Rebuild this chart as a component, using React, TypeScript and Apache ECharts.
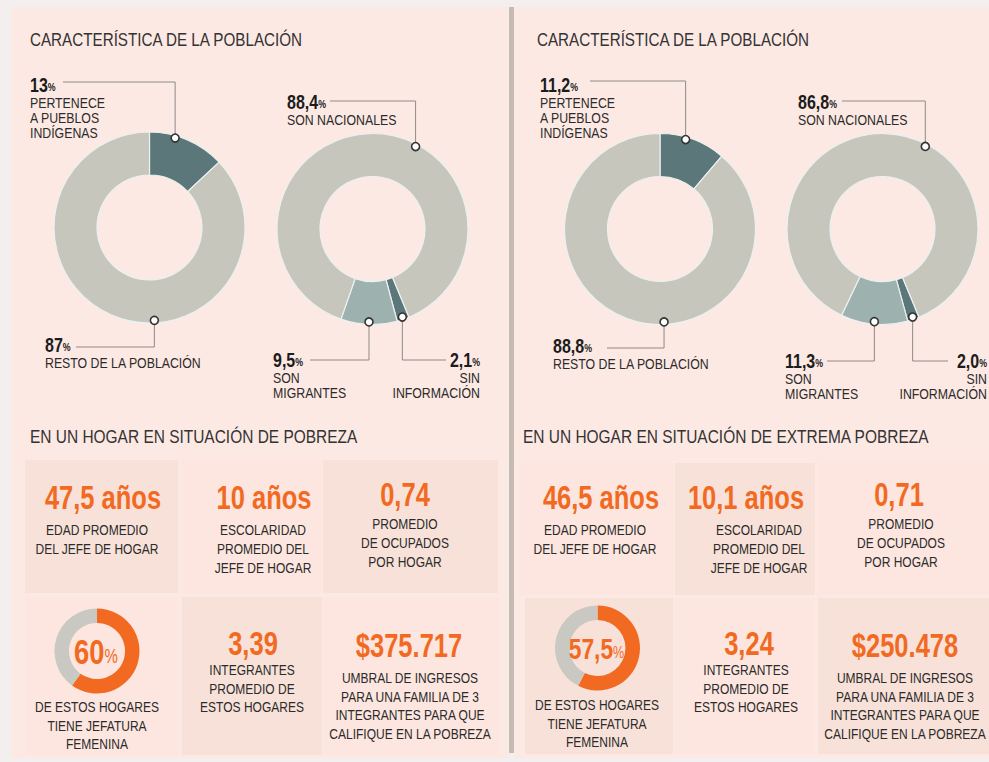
import React, { useEffect, useRef } from 'react';
import * as echarts from 'echarts';

// ---------- DATA ----------
const indigenaCats = ['PERTENECE\nA PUEBLOS\nINDÍGENAS', 'RESTO DE LA POBLACIÓN'];
const indigenaPobreza = [13, 87];
const indigenaExtrema = [11.2, 88.8];
const origenCats = ['SIN\nINFORMACIÓN', 'SON\nMIGRANTES', 'SON NACIONALES'];
const origenPobreza = [2.1, 9.5, 88.4];
const origenExtrema = [2.0, 11.3, 86.8];
const topTitles = ['CARACTERÍSTICA DE LA POBLACIÓN', 'CARACTERÍSTICA DE LA POBLACIÓN'];
const hogarTitles = ['EN UN HOGAR EN SITUACIÓN DE POBREZA', 'EN UN HOGAR EN SITUACIÓN DE EXTREMA POBREZA'];
const edadPromedio = [47.5, 46.5];
const escolaridadPromedio = [10, 10.1];
const ocupadosPorHogar = [0.74, 0.71];
const jefaturaFemenina = [60, 57.5];
const integrantesPromedio = [3.39, 3.24];
const umbralIngresos = [375717, 250478];
const statLabels = {
  edad: 'EDAD PROMEDIO\nDEL JEFE DE HOGAR',
  escolaridad: 'ESCOLARIDAD\nPROMEDIO DEL\nJEFE DE HOGAR',
  ocupados: 'PROMEDIO\nDE OCUPADOS\nPOR HOGAR',
  jefatura: 'DE ESTOS HOGARES\nTIENE JEFATURA\nFEMENINA',
  integrantes: 'INTEGRANTES\nPROMEDIO DE\nESTOS HOGARES',
  umbral: 'UMBRAL DE INGRESOS\nPARA UNA FAMILIA DE 3\nINTEGRANTES PARA QUE\nCALIFIQUE EN LA POBREZA',
};

// ---------- STYLE / LAYOUT ----------
const FONT = "'Liberation Sans', Arial, sans-serif";
const NARROW = 0.8;
const PINK = '#fde9e3';
const BOX_DARK = '#f7e1d8';
const BOX_LIGHT = '#fce6df';
const ORANGE = '#f26a22';
const TEXT = '#2b2b2b';
const C_LIGHT = '#c6c6bd';
const C_DARK = '#5b7779';
const C_MID = '#9db1af';
const RING_GRAY = '#c9c8c2';

const layouts = [
  {
    panel: [12, 7, 496, 751],
    title1: [30, 40],
    title2: [30, 437],
    d1: [149.5, 227.5],
    d2: [372.5, 229],
    indMarkers: [16, 177],
    origMarkers: [null, null, 27.6],
    indAnn: [
      { x: 30, y: 85, align: 'left', lineY: 82, lineX: 63 },
      { x: 45, y: 345, align: 'left', lineY: 347, lineX: 76 },
    ],
    origAnn: [
      { x: 480, y: 360, align: 'right', lineY: 360, lineX: 446 },
      { x: 273, y: 360, align: 'left', lineY: 360, lineX: 310 },
      { x: 287, y: 102, align: 'left', lineY: 101, lineX: 330 },
    ],
    boxes: [
      [25, 460, 153, 133, 1], [182, 460, 140, 133, 0], [323, 460, 175, 133, 1],
      [25, 597, 153, 158, 0], [182, 597, 140, 158, 1], [323, 597, 175, 158, 0],
    ],
    edad: { n: [103, 497], l: [97, 530] },
    escolaridad: { n: [264, 497], l: [263, 530] },
    ocupados: { n: [405, 494], l: [405, 524] },
    jefatura: { c: [97, 651], l: [97, 707] },
    integrantes: { n: [253, 643], l: [252, 670] },
    umbral: { n: [409, 645], l: [410, 678] },
  },
  {
    panel: [514, 7, 475, 751],
    title1: [537, 40],
    title2: [523, 437],
    d1: [660, 229],
    d2: [882.5, 229],
    indMarkers: [16, 177.5],
    origMarkers: [null, null, 27.4],
    indAnn: [
      { x: 540, y: 85, align: 'left', lineY: 81, lineX: 590 },
      { x: 553, y: 346, align: 'left', lineY: 348, lineX: 607 },
    ],
    origAnn: [
      { x: 987, y: 361, align: 'right', lineY: 361, lineX: 948 },
      { x: 785, y: 361, align: 'left', lineY: 361, lineX: 827 },
      { x: 798, y: 102, align: 'left', lineY: 101, lineX: 842 },
    ],
    boxes: [
      [520, 463, 153, 132, 0], [675, 463, 140, 132, 1], [817, 463, 172, 132, 0],
      [525, 598, 148, 156, 1], [675, 598, 140, 156, 0], [818, 598, 171, 156, 1],
    ],
    edad: { n: [601, 497], l: [595, 530] },
    escolaridad: { n: [746, 497], l: [759, 530] },
    ocupados: { n: [899, 494], l: [901, 524] },
    jefatura: { c: [597.5, 648], l: [597, 705] },
    integrantes: { n: [749, 643], l: [746, 670] },
    umbral: { n: [905, 645], l: [905, 678] },
  },
];

const R_IN = 52.5;
const R_OUT = 95.5;
const R_MARK = 93;

const fmt = (v: number, dec?: number) =>
  (dec === undefined ? String(v) : v.toFixed(dec)).replace('.', ',');
const fmtMoney = (v: number) => '$' + String(v).replace(/\B(?=(\d{3})+(?!\d))/g, '.');

function txt(t: string, x: number, y: number, o: any = {}) {
  const align = o.align || 'left';
  const va = o.va || 'middle';
  return {
    type: 'text',
    x,
    y,
    scaleX: o.scaleX || NARROW,
    z: 40,
    silent: true,
    style: {
      text: t,
      fill: o.fill || TEXT,
      fontFamily: FONT,
      fontSize: o.size || 15,
      fontWeight: o.weight || 'normal',
      align,
      textAlign: align,
      verticalAlign: va,
      textVerticalAlign: va,
      lineHeight: o.lh,
      rich: o.rich,
    },
  };
}

function multi(t: string, x: number, firstY: number, lh: number, o: any = {}) {
  return txt(t, x, firstY - lh / 2, { ...o, va: 'top', lh });
}

function pctText(num: string, x: number, y: number, align: string) {
  return txt(`{n|${num}}{p|%}`, x, y, {
    align,
    scaleX: 0.8,
    rich: {
      n: { fontFamily: FONT, fontSize: 20, fontWeight: 'bold', fill: '#1c1c1c', color: '#1c1c1c' },
      p: { fontFamily: FONT, fontSize: 11, fontWeight: 'bold', fill: '#1c1c1c', color: '#1c1c1c', padding: [4, 0, 0, 0] },
    },
  });
}

function sliceAngles(values: number[], startCW: number) {
  const sum = values.reduce((a, b) => a + b, 0);
  let acc = startCW;
  return values.map((v) => {
    const a0 = acc;
    acc += (v / sum) * 360;
    return (a0 + acc) / 2;
  });
}

function donutAnnotations(
  values: number[], cats: string[], center: number[], startCW: number,
  overrides: (number | null)[], anns: any[], dec: number | undefined
) {
  const els: any[] = [];
  const mids = sliceAngles(values, startCW);
  values.forEach((v, i) => {
    const ang = ((overrides[i] ?? mids[i]) * Math.PI) / 180;
    const mx = center[0] + R_MARK * Math.sin(ang);
    const my = center[1] - R_MARK * Math.cos(ang);
    const a = anns[i];
    const endY = my < a.lineY ? my + 4 : my - 4;
    els.push({
      type: 'polyline', z: 30, silent: true,
      shape: { points: [[a.lineX, a.lineY], [mx, a.lineY], [mx, endY]] },
      style: { stroke: '#8d8a88', lineWidth: 1, fill: null },
    });
    els.push({
      type: 'circle', z: 35, silent: true,
      shape: { cx: mx, cy: my, r: 4 },
      style: { fill: '#ffffff', stroke: '#333333', lineWidth: 1.6 },
    });
    els.push(pctText(fmt(v, dec), a.x, a.y, a.align));
    els.push(multi(cats[i], a.x, a.y + 18, 15, { align: a.align, size: 14.5, scaleX: 0.85 }));
  });
  return els;
}

function bigNum(t: string, p: number[]) {
  return txt(t, p[0], p[1], { align: 'center', size: 34, weight: 'bold', fill: ORANGE, scaleX: 0.75 });
}

export default function App() {
  const ref = useRef<HTMLDivElement>(null);
  useEffect(() => {
    if (!ref.current) return;
    const chart = echarts.init(ref.current, null, { renderer: 'svg' });
    const series: any[] = [];
    const graphics: any[] = [];

    layouts.forEach((L, pi) => {
      const ind = pi === 0 ? indigenaPobreza : indigenaExtrema;
      const org = pi === 0 ? origenPobreza : origenExtrema;
      const indDec = pi === 0 ? undefined : 1;

      // panel + boxes
      graphics.push({ type: 'rect', z: -10, silent: true, shape: { x: L.panel[0], y: L.panel[1], width: L.panel[2], height: L.panel[3] }, style: { fill: PINK } });
      L.boxes.forEach((b) => {
        graphics.push({ type: 'rect', z: -9, silent: true, shape: { x: b[0], y: b[1], width: b[2], height: b[3] }, style: { fill: b[4] ? BOX_DARK : BOX_LIGHT } });
      });

      // titles
      graphics.push(txt(topTitles[pi], L.title1[0], L.title1[1], { size: 18, fill: '#333', scaleX: 0.845 }));
      graphics.push(txt(hogarTitles[pi], L.title2[0], L.title2[1], { size: 18, fill: '#333', scaleX: 0.86 }));

      // donuts
      const common = {
        type: 'pie', radius: [R_IN, R_OUT], silent: true, clockwise: true,
        label: { show: false }, labelLine: { show: false },
        itemStyle: { borderColor: '#eaf1f1', borderWidth: 1.2 },
        emphasis: { disabled: true },
      };
      series.push({
        ...common, center: L.d1, startAngle: 90,
        data: ind.map((v, i) => ({ value: v, name: indigenaCats[i], itemStyle: { color: i === 0 ? C_DARK : C_LIGHT } })),
      });
      series.push({
        ...common, center: L.d2, startAngle: 90 - 157.5,
        data: org.map((v, i) => ({ value: v, name: origenCats[i], itemStyle: { color: [C_DARK, C_MID, C_LIGHT][i] } })),
      });
      graphics.push(...donutAnnotations(ind, indigenaCats, L.d1, 0, L.indMarkers, L.indAnn, indDec));
      graphics.push(...donutAnnotations(org, origenCats, L.d2, 157.5, L.origMarkers, L.origAnn, 1));

      // stats
      graphics.push(bigNum(`${fmt(edadPromedio[pi])} años`, L.edad.n));
      graphics.push(multi(statLabels.edad, L.edad.l[0], L.edad.l[1], 19, { align: 'center' }));
      graphics.push(bigNum(`${fmt(escolaridadPromedio[pi])} años`, L.escolaridad.n));
      graphics.push(multi(statLabels.escolaridad, L.escolaridad.l[0], L.escolaridad.l[1], 19, { align: 'center' }));
      graphics.push(bigNum(fmt(ocupadosPorHogar[pi]), L.ocupados.n));
      graphics.push(multi(statLabels.ocupados, L.ocupados.l[0], L.ocupados.l[1], 19, { align: 'center' }));
      graphics.push(bigNum(fmt(integrantesPromedio[pi]), L.integrantes.n));
      graphics.push(multi(statLabels.integrantes, L.integrantes.l[0], L.integrantes.l[1], 18.6, { align: 'center' }));
      graphics.push(bigNum(fmtMoney(umbralIngresos[pi]), L.umbral.n));
      graphics.push(multi(statLabels.umbral, L.umbral.l[0], L.umbral.l[1], 18.6, { align: 'center' }));

      // jefatura ring
      const jf = jefaturaFemenina[pi];
      series.push({
        type: 'pie', center: L.jefatura.c, radius: [28, 42.5], startAngle: 90, clockwise: true, silent: true,
        label: { show: false }, labelLine: { show: false }, emphasis: { disabled: true },
        data: [
          { value: jf, name: 'Jefatura femenina', itemStyle: { color: ORANGE } },
          { value: 100 - jf, name: 'Resto', itemStyle: { color: RING_GRAY } },
        ],
      });
      const jfStr = fmt(jf);
      const nSize = jfStr.length > 2 ? 30 : 36;
      graphics.push(txt(`{n|${jfStr}}{p|%}`, L.jefatura.c[0] - 1, L.jefatura.c[1] + 1, {
        align: 'center',
        scaleX: 0.76,
        rich: {
          n: { fontFamily: FONT, fontSize: nSize, fontWeight: 'bold', fill: ORANGE, color: ORANGE },
          p: { fontFamily: FONT, fontSize: nSize * 0.55, fill: ORANGE, color: ORANGE, padding: [nSize * 0.25, 0, 0, 0] },
        },
      }));
      graphics.push(multi(statLabels.jefatura, L.jefatura.l[0], L.jefatura.l[1], 18.6, { align: 'center' }));
    });

    // divider
    graphics.push({ type: 'rect', z: -8, silent: true, shape: { x: 509, y: 7, width: 5, height: 746 }, style: { fill: '#c7bab2' } });

    chart.setOption({
      animation: false,
      backgroundColor: '#f2efee',
      series,
      graphic: { elements: graphics },
    });
    return () => chart.dispose();
  }, []);
  return <div ref={ref} style={{ position: 'fixed', left: 0, top: 0, width: 989, height: 762 }} />;
}
